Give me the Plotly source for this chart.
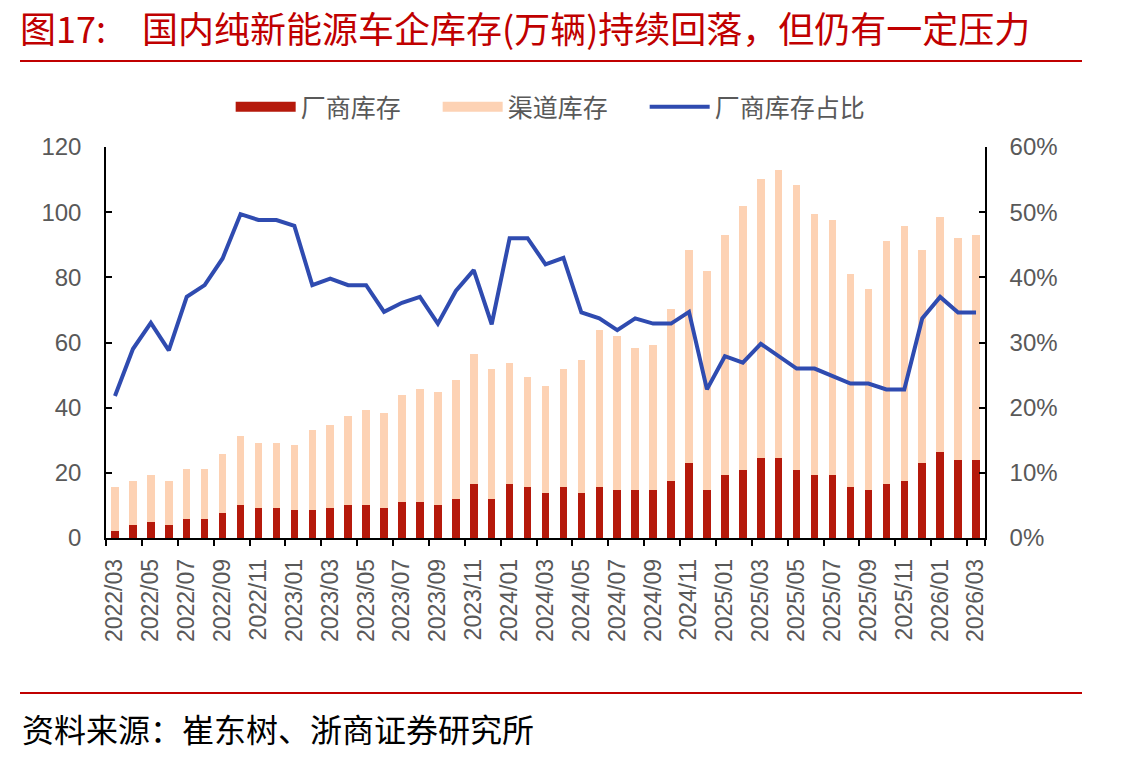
import plotly.graph_objects as go

months = ["2022/03","2022/04","2022/05","2022/06","2022/07","2022/08","2022/09","2022/10","2022/11","2022/12",
          "2023/01","2023/02","2023/03","2023/04","2023/05","2023/06","2023/07","2023/08","2023/09","2023/10",
          "2023/11","2023/12","2024/01","2024/02","2024/03","2024/04","2024/05","2024/06","2024/07","2024/08",
          "2024/09","2024/10","2024/11","2024/12","2025/01","2025/02","2025/03","2025/04","2025/05","2025/06",
          "2025/07","2025/08","2025/09","2025/10","2025/11","2025/12","2026/01","2026/02","2026/03"]

factory_inv = [2.0,3.9,4.8,3.9,5.7,5.7,7.6,10.2,9.3,9.3,
               8.5,8.5,9.3,10.2,10.2,9.3,11.1,11.1,10.2,12.1,
               16.5,12.1,16.5,15.6,13.8,15.6,13.8,15.6,14.7,14.7,
               14.7,17.5,22.9,14.7,19.3,21.0,24.7,24.7,21.0,19.3,
               19.3,15.6,14.7,16.5,17.5,22.9,26.5,23.8,23.8]

total_inv = [15.8,17.6,19.4,17.6,21.1,21.1,25.7,31.2,29.3,29.3,
             28.4,33.0,34.7,37.5,39.3,38.3,43.8,45.8,44.7,48.5,
             56.5,52.0,53.8,49.3,46.6,52.0,54.6,63.8,62.0,58.3,
             59.2,70.2,88.4,81.9,93.0,101.9,110.1,112.9,108.4,99.3,
             97.5,81.1,76.5,91.2,95.7,88.4,98.4,92.1,93.0]

channel_inv = [round(t - f, 1) for t, f in zip(total_inv, factory_inv)]

factory_share = [21.8,29.0,33.0,28.8,37.0,38.8,42.9,49.7,48.8,48.8,
                 47.9,38.8,39.8,38.8,38.8,34.7,36.1,37.0,32.9,37.9,
                 41.1,32.8,46.0,46.0,42.0,43.0,34.6,33.7,31.9,33.7,
                 32.9,32.9,34.7,22.8,27.9,26.9,29.8,27.9,26.0,26.0,
                 24.8,23.7,23.7,22.8,22.8,33.7,37.0,34.6,34.6]
share_frac = [v / 100 for v in factory_share]

x_labels = months[::2]

RED = "#B5190B"
PEACH = "#FDD2B4"
BLUE = "#2F4BB0"
GREY = "#595959"
CJK = "Noto Sans CJK SC"
LAT = "Liberation Sans, Arial"

L, R, T, B = 106, 155, 147, 224
PW = 1140 - L - R
PH = 762 - T - B


def px_x(px):
    return (px - L) / PW


def px_y(py):
    return (762 - B - py) / PH


fig = go.Figure()
fig.add_trace(go.Bar(x=months, y=factory_inv, name="厂商库存", marker_color=RED,
                     marker_line_width=0, showlegend=False))
fig.add_trace(go.Bar(x=months, y=channel_inv, name="渠道库存", marker_color=PEACH,
                     marker_line_width=0, showlegend=False))
# legend swatches (wide rectangles like the reference)
fig.add_trace(go.Scatter(x=[None], y=[None], name="厂商库存", mode="lines",
                         line=dict(color=RED, width=12), hoverinfo="skip"))
fig.add_trace(go.Scatter(x=[None], y=[None], name="渠道库存", mode="lines",
                         line=dict(color=PEACH, width=12), hoverinfo="skip"))
fig.add_trace(go.Scatter(x=months, y=share_frac, name="厂商库存占比", mode="lines",
                         line=dict(color=BLUE, width=4), yaxis="y2", legendwidth=160))

fig.update_layout(
    width=1140, height=762,
    margin=dict(l=L, r=R, t=T, b=B),
    paper_bgcolor="white", plot_bgcolor="white",
    barmode="stack", bargap=0.58,
    showlegend=True,
    legend=dict(orientation="h", x=0.511, xanchor="center", y=px_y(107), yanchor="middle",
                font=dict(family=CJK, size=25, color=GREY), itemwidth=60,
                traceorder="normal", entrywidth=132, entrywidthmode="pixels"),
    xaxis=dict(type="category", categoryorder="array", categoryarray=months,
               tickmode="array", tickvals=x_labels, ticktext=x_labels,
               tickson="boundaries", ticks="outside", ticklen=6, tickwidth=1.5,
               tickcolor="black", tickangle=-90, ticklabelstandoff=10,
               tickfont=dict(family=LAT, size=23, color=GREY),
               showline=True, linecolor="black", linewidth=1.5,
               showgrid=False, range=[-0.5, 48.5]),
    yaxis=dict(range=[0, 120], tickvals=[0, 20, 40, 60, 80, 100, 120],
               ticks="inside", ticklen=6, tickwidth=1.5, tickcolor="black",
               ticklabelstandoff=18,
               tickfont=dict(family=LAT, size=24, color=GREY),
               showline=True, linecolor="black", linewidth=1.5, showgrid=False,
               zeroline=False),
    yaxis2=dict(range=[0, 0.6], tickvals=[0, 0.1, 0.2, 0.3, 0.4, 0.5, 0.6],
                tickformat=".0%", overlaying="y", side="right",
                ticks="inside", ticklen=6, tickwidth=1.5, tickcolor="black",
                ticklabelstandoff=18,
                tickfont=dict(family=LAT, size=24, color=GREY),
                showline=True, linecolor="black", linewidth=1.5, showgrid=False,
                zeroline=False),
)

fig.add_annotation(text="图17:\u3000国内纯新能源车企库存(万辆)持续回落，但仍有一定压力",
                   xref="paper", yref="paper", x=px_x(18), y=px_y(27),
                   xanchor="left", yanchor="middle", showarrow=False,
                   font=dict(family=CJK, size=36, color="#C00000"))
fig.add_annotation(text="资料来源：崔东树、浙商证券研究所",
                   xref="paper", yref="paper", x=px_x(20), y=px_y(728),
                   xanchor="left", yanchor="middle", showarrow=False,
                   font=dict(family=CJK, size=32, color="black"))
for py in (61, 693):
    fig.add_shape(type="line", xref="paper", yref="paper",
                  x0=px_x(20), x1=px_x(1082), y0=px_y(py), y1=px_y(py),
                  line=dict(color="#C00000", width=2))

fig.write_html("out.html")
